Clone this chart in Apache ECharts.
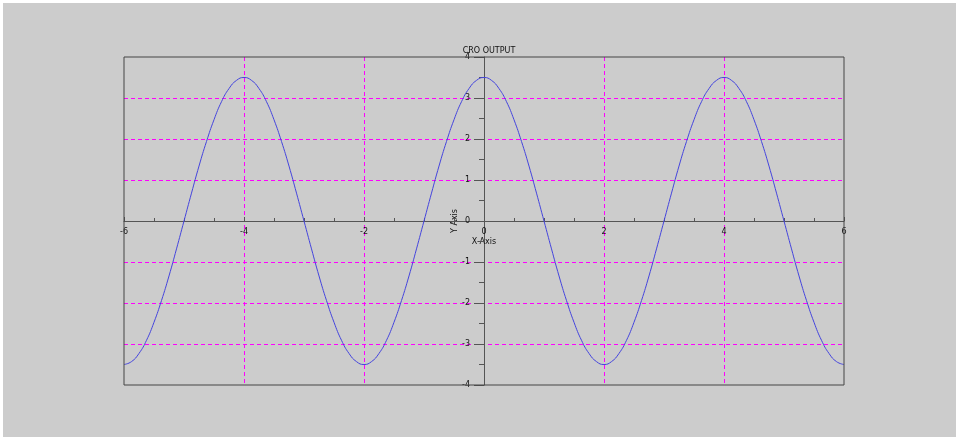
<!DOCTYPE html>
<html>
<head>
<meta charset="utf-8">
<script src="https://cdn.jsdelivr.net/npm/echarts@6/dist/echarts.min.js"></script>
<style>
  html, body { margin: 0; padding: 0; background: #ffffff; overflow: hidden; }
  #cro-chart { position: absolute; left: 3px; top: 3px; width: 960px; height: 440px; background: #cccccc; }
</style>
</head>
<body>
<div id="cro-chart"></div>
<script>
// x samples (step 0.125) and the readings
const xValues = [
  -6, -5.875, -5.75, -5.625, -5.5, -5.375, -5.25, -5.125,
  -5, -4.875, -4.75, -4.625, -4.5, -4.375, -4.25, -4.125,
  -4, -3.875, -3.75, -3.625, -3.5, -3.375, -3.25, -3.125,
  -3, -2.875, -2.75, -2.625, -2.5, -2.375, -2.25, -2.125,
  -2, -1.875, -1.75, -1.625, -1.5, -1.375, -1.25, -1.125,
  -1, -0.875, -0.75, -0.625, -0.5, -0.375, -0.25, -0.125,
  0, 0.125, 0.25, 0.375, 0.5, 0.625, 0.75, 0.875,
  1, 1.125, 1.25, 1.375, 1.5, 1.625, 1.75, 1.875,
  2, 2.125, 2.25, 2.375, 2.5, 2.625, 2.75, 2.875,
  3, 3.125, 3.25, 3.375, 3.5, 3.625, 3.75, 3.875,
  4, 4.125, 4.25, 4.375, 4.5, 4.625, 4.75, 4.875,
  5, 5.125, 5.25, 5.375, 5.5, 5.625, 5.75, 5.875,
  6
]
const yValues = [
  -3.5, -3.43, -3.23, -2.91, -2.47, -1.94, -1.34, -0.68,
  0, 0.68, 1.34, 1.94, 2.47, 2.91, 3.23, 3.43,
  3.5, 3.43, 3.23, 2.91, 2.47, 1.94, 1.34, 0.68,
  0, -0.68, -1.34, -1.94, -2.47, -2.91, -3.23, -3.43,
  -3.5, -3.43, -3.23, -2.91, -2.47, -1.94, -1.34, -0.68,
  0, 0.68, 1.34, 1.94, 2.47, 2.91, 3.23, 3.43,
  3.5, 3.43, 3.23, 2.91, 2.47, 1.94, 1.34, 0.68,
  0, -0.68, -1.34, -1.94, -2.47, -2.91, -3.23, -3.43,
  -3.5, -3.43, -3.23, -2.91, -2.47, -1.94, -1.34, -0.68,
  0, 0.68, 1.34, 1.94, 2.47, 2.91, 3.23, 3.43,
  3.5, 3.43, 3.23, 2.91, 2.47, 1.94, 1.34, 0.68,
  0, -0.68, -1.34, -1.94, -2.47, -2.91, -3.23, -3.43,
  -3.5
]
const xTicks = [-6, -4, -2, 0, 2, 4, 6]
const yTicks = [-4, -3, -2, -1, 0, 1, 2, 3, 4]

const gridLine = {
  show: true,
  showMinLine: false,
  showMaxLine: false,
  lineStyle: { color: '#ff00ff', type: [4, 3], width: 1 }
}
const labelFont = { color: '#111', fontSize: 8, fontFamily: 'DejaVu Sans' }

// plot box 720 x 328, axes cross in the middle
const chart = echarts.init(document.getElementById('cro-chart'))
chart.setOption({
  animation: false,
  title: {
    text: 'CRO OUTPUT',
    left: 481,
    textAlign: 'center',
    top: 39,
    textStyle: { fontSize: 8, fontWeight: 'normal', color: '#111', fontFamily: 'DejaVu Sans' }
  },
  grid: {
    left: 121,
    width: 720,
    top: 54,
    height: 328,
    show: true,
    borderColor: '#444',
    borderWidth: 1,
    backgroundColor: 'transparent',
    z: 5
  },
  xAxis: {
    type: 'value',
    min: xTicks[0],
    max: xTicks[xTicks.length - 1],
    interval: 2,
    offset: -164,
    name: 'X-Axis',
    nameLocation: 'middle',
    nameGap: 17,
    nameMoveOverlap: false,
    nameTextStyle: labelFont,
    axisLine: { onZero: false, lineStyle: { color: '#555' } },
    axisTick: { inside: true, length: 4, lineStyle: { color: '#555' } },
    minorTick: { show: true, splitNumber: 4, length: 3, lineStyle: { color: '#555' } },
    axisLabel: { ...labelFont, margin: 7, showMinLabel: true, showMaxLabel: true },
    splitLine: gridLine
  },
  yAxis: {
    type: 'value',
    min: yTicks[0],
    max: yTicks[yTicks.length - 1],
    interval: 1,
    offset: -360,
    name: 'Y Axis',
    nameLocation: 'middle',
    nameRotate: 90,
    nameGap: 25,
    nameMoveOverlap: false,
    nameTextStyle: labelFont,
    axisLine: { onZero: false, lineStyle: { color: '#555' } },
    axisTick: { inside: false, length: 10, lineStyle: { color: '#555' } },
    minorTick: { show: true, splitNumber: 2, length: 5, lineStyle: { color: '#555' } },
    axisLabel: { ...labelFont, margin: 14 },
    splitLine: gridLine
  },
  series: [
    {
      type: 'line',
      data: xValues.map((x, i) => [x, yValues[i]]),
      smooth: true,
      showSymbol: false,
      lineStyle: { color: '#4444dd', width: 1 },
      z: 3
    }
  ]
})
</script>
</body>
</html>
